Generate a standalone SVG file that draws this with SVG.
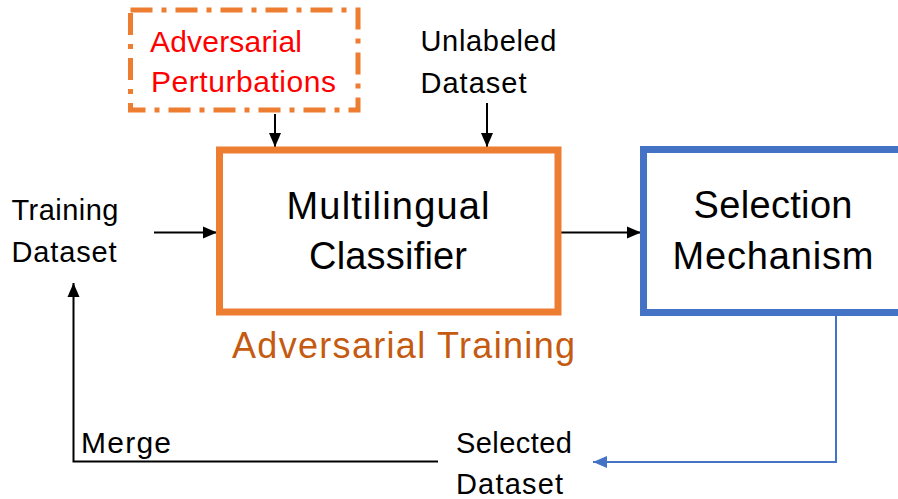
<svg xmlns="http://www.w3.org/2000/svg" width="898" height="499" viewBox="0 0 898 499">
  <style>
    .lbl { font-family: "Liberation Sans", Arial, sans-serif; fill: #000; }
    .big { font-size: 38px; }
    .mid { font-size: 29px; }
    .edge { fill: none; stroke: #000; stroke-width: 2; }
    .blue-edge { fill: none; stroke: #4472C4; stroke-width: 2; }
  </style>
  <defs>
    <marker id="arrow" markerUnits="userSpaceOnUse" markerWidth="14" markerHeight="14" viewBox="0 0 14 14" refX="14" refY="7" orient="auto">
      <path d="M0,1 L14,7 L0,13 Z" fill="#000"/>
    </marker>
    <marker id="arrow-blue" markerUnits="userSpaceOnUse" markerWidth="14" markerHeight="14" viewBox="0 0 14 14" refX="14" refY="7" orient="auto">
      <path d="M0,1 L14,7 L0,13 Z" fill="#4472C4"/>
    </marker>
  </defs>

  <rect width="898" height="499" fill="#fff"/>

  <!-- connectors -->
  <g id="connectors">
    <line class="edge" x1="275" y1="114" x2="275" y2="147" marker-end="url(#arrow)"/>
    <line class="edge" x1="487" y1="103" x2="487" y2="147" marker-end="url(#arrow)"/>
    <line class="edge" x1="154" y1="232.5" x2="217" y2="232.5" marker-end="url(#arrow)"/>
    <line class="edge" x1="558" y1="232.5" x2="641" y2="232.5" marker-end="url(#arrow)"/>
    <polyline class="blue-edge" points="836,316 836,462 593,462" marker-end="url(#arrow-blue)"/>
    <polyline class="edge" points="438,461.5 73.5,461.5 73.5,283" marker-end="url(#arrow)"/>
  </g>

  <!-- adversarial perturbations (dash-dot box) -->
  <g id="perturbations">
    <rect x="130.5" y="10" width="227.5" height="100" fill="none" stroke="#ED7D31" stroke-width="5" stroke-dasharray="22,9,5,9"/>
    <text class="lbl" x="150" y="52" font-size="30" style="fill:#FF0000" textLength="152">Adversarial</text>
    <text class="lbl" x="151" y="91.5" font-size="30" style="fill:#FF0000" textLength="185">Perturbations</text>
  </g>

  <!-- unlabeled dataset -->
  <g id="unlabeled">
    <text class="lbl mid" x="420.5" y="51" textLength="136">Unlabeled</text>
    <text class="lbl mid" x="420.5" y="93" textLength="106">Dataset</text>
  </g>

  <!-- training dataset -->
  <g id="training">
    <text class="lbl mid" x="11.5" y="220" textLength="107">Training</text>
    <text class="lbl mid" x="11.5" y="262" textLength="105">Dataset</text>
  </g>

  <!-- multilingual classifier -->
  <g id="classifier">
    <rect x="219.5" y="150" width="338.5" height="162" fill="#fff" stroke="#ED7D31" stroke-width="7"/>
    <text class="lbl big" x="388" y="219" text-anchor="middle" textLength="203">Multilingual</text>
    <text class="lbl big" x="388" y="268.5" text-anchor="middle" textLength="158">Classifier</text>
  </g>

  <!-- caption under the classifier -->
  <g id="adv-training">
    <text class="lbl" x="232" y="357.5" font-size="36" style="fill:#C55A11" textLength="343">Adversarial Training</text>
  </g>

  <!-- selection mechanism -->
  <g id="selection">
    <rect x="643.5" y="149.5" width="270" height="163" fill="#fff" stroke="#4472C4" stroke-width="7"/>
    <text class="lbl big" x="773" y="217.5" text-anchor="middle" textLength="159">Selection</text>
    <text class="lbl big" x="773" y="268.5" text-anchor="middle" textLength="201">Mechanism</text>
  </g>

  <!-- merge label -->
  <g id="merge">
    <text class="lbl" x="81" y="452.5" font-size="30" textLength="90">Merge</text>
  </g>

  <!-- selected dataset -->
  <g id="selected">
    <text class="lbl mid" x="456" y="452.5" textLength="116">Selected</text>
    <text class="lbl mid" x="456" y="494" textLength="107">Dataset</text>
  </g>
</svg>
